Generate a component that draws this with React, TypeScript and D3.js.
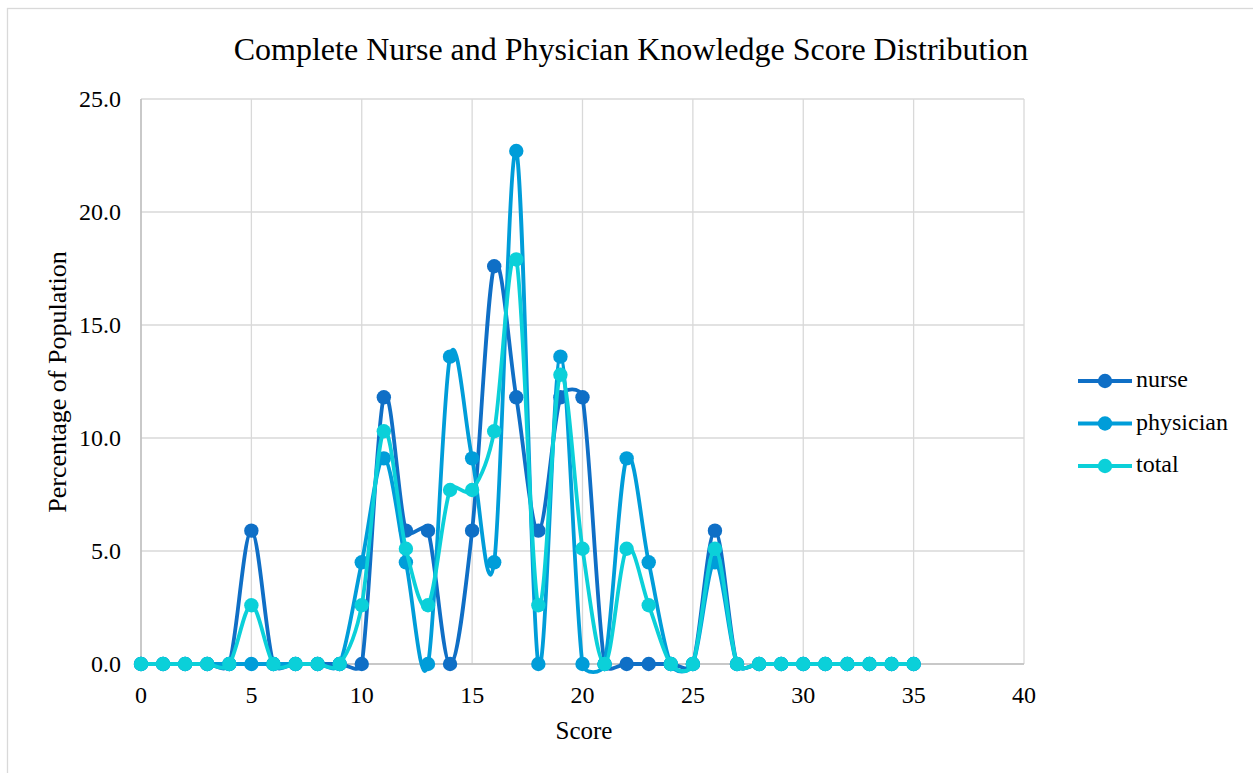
import React, { useRef, useEffect } from "react";
import * as d3 from "d3";

const fontFamily = "'Liberation Serif', 'Times New Roman', serif";

// scores 0..35
const scores = d3.range(0, 36);
const nurse = [0, 0, 0, 0, 0, 5.9, 0, 0, 0, 0, 0, 11.8, 5.9, 5.9, 0, 5.9, 17.6, 11.8, 5.9, 11.8, 11.8, 0, 0, 0, 0, 0, 5.9, 0, 0, 0, 0, 0, 0, 0, 0, 0];
const physician = [0, 0, 0, 0, 0, 0, 0, 0, 0, 0, 4.5, 9.1, 4.5, 0, 13.6, 9.1, 4.5, 22.7, 0, 13.6, 0, 0, 9.1, 4.5, 0, 0, 4.5, 0, 0, 0, 0, 0, 0, 0, 0, 0];
const total = [0, 0, 0, 0, 0, 2.6, 0, 0, 0, 0, 2.6, 10.3, 5.1, 2.6, 7.7, 7.7, 10.3, 17.9, 2.6, 12.8, 5.1, 0, 5.1, 2.6, 0, 0, 5.1, 0, 0, 0, 0, 0, 0, 0, 0, 0];

const seriesNames = ["nurse", "physician", "total"];
const seriesColors = ["#0F6FC6", "#009DD9", "#0BD0D9"];
const xTicks = [0, 5, 10, 15, 20, 25, 30, 35, 40];
const yTicks = [0, 5, 10, 15, 20, 25];

// spreadsheet-style smoothed line: bezier with 1/6 tangents, capped to half the segment
function smoothPath(pts: [number, number][]) {
  const p = d3.path();
  const dist = (a: [number, number], b: [number, number]) => Math.hypot(b[0] - a[0], b[1] - a[1]);
  p.moveTo(pts[0][0], pts[0][1]);
  for (let i = 0; i < pts.length - 1; i++) {
    const p0 = pts[Math.max(0, i - 1)];
    const p1 = pts[i];
    const p2 = pts[i + 1];
    const p3 = pts[Math.min(pts.length - 1, i + 2)];
    const d12 = dist(p1, p2);
    const d02 = dist(p0, p2);
    const d13 = dist(p1, p3);
    const f1 = d02 > 0 ? Math.min(1 / 6, d12 / (2 * d02)) : 0;
    const f2 = d13 > 0 ? Math.min(1 / 6, d12 / (2 * d13)) : 0;
    p.bezierCurveTo(
      p1[0] + f1 * (p2[0] - p0[0]), p1[1] + f1 * (p2[1] - p0[1]),
      p2[0] - f2 * (p3[0] - p1[0]), p2[1] - f2 * (p3[1] - p1[1]),
      p2[0], p2[1]
    );
  }
  return p.toString();
}

export default function App() {
  const ref = useRef<SVGSVGElement>(null);
  const width = 1253;
  const height = 773;

  useEffect(() => {
    const svg = d3.select(ref.current);
    svg.selectAll("*").remove();

    const plot = { left: 141, right: 1024, top: 99, bottom: 664 };
    const x = d3.scaleLinear().domain([0, 40]).range([plot.left, plot.right]);
    const y = d3.scaleLinear().domain([0, 25]).range([plot.bottom, plot.top]);

    svg.append("rect").attr("width", width).attr("height", height).attr("fill", "#fff");
    // chart border
    svg.append("rect")
      .attr("x", 7.5).attr("y", 8.5)
      .attr("width", width + 10).attr("height", height + 10)
      .attr("fill", "none").attr("stroke", "#d9d9d9").attr("stroke-width", 1.3);

    // gridlines
    svg.append("g").selectAll("line.vg")
      .data(xTicks)
      .join("line")
      .attr("x1", d => x(d)).attr("x2", d => x(d))
      .attr("y1", plot.top).attr("y2", plot.bottom)
      .attr("stroke", "#d9d9d9").attr("stroke-width", 1.3);
    svg.append("g").selectAll("line.hg")
      .data(yTicks)
      .join("line")
      .attr("x1", plot.left).attr("x2", plot.right)
      .attr("y1", d => y(d)).attr("y2", d => y(d))
      .attr("stroke", "#d9d9d9").attr("stroke-width", 1.3);
    // axis lines
    svg.append("line")
      .attr("x1", plot.left).attr("x2", plot.right)
      .attr("y1", plot.bottom).attr("y2", plot.bottom)
      .attr("stroke", "#bfbfbf").attr("stroke-width", 1.5);
    svg.append("line")
      .attr("x1", plot.left).attr("x2", plot.left)
      .attr("y1", plot.top).attr("y2", plot.bottom)
      .attr("stroke", "#bfbfbf").attr("stroke-width", 1.5);

    // tick labels
    svg.append("g").selectAll("text")
      .data(xTicks)
      .join("text")
      .attr("x", d => x(d)).attr("y", 703)
      .attr("text-anchor", "middle")
      .attr("font-family", fontFamily).attr("font-size", 24).attr("fill", "#000")
      .text(d => d);
    svg.append("g").selectAll("text")
      .data(yTicks)
      .join("text")
      .attr("x", 121).attr("y", d => y(d) + 8)
      .attr("text-anchor", "end")
      .attr("font-family", fontFamily).attr("font-size", 24).attr("fill", "#000")
      .text(d => d3.format(".1f")(d));

    // titles
    svg.append("text")
      .attr("x", 631).attr("y", 60)
      .attr("text-anchor", "middle")
      .attr("font-family", fontFamily).attr("font-size", 32).attr("fill", "#000")
      .text("Complete Nurse and Physician Knowledge Score Distribution");
    svg.append("text")
      .attr("x", 584).attr("y", 739)
      .attr("text-anchor", "middle")
      .attr("font-family", fontFamily).attr("font-size", 25).attr("fill", "#000")
      .text("Score");
    svg.append("text")
      .attr("transform", "translate(66,382) rotate(-90)")
      .attr("text-anchor", "middle")
      .attr("font-family", fontFamily).attr("font-size", 26).attr("fill", "#000")
      .text("Percentage of Population");

    const allSeries = [nurse, physician, total];

    allSeries.forEach((vals, si) => {
      const g = svg.append("g");
      const pts = vals.map((v, i) => [x(scores[i]), y(v)] as [number, number]);
      g.append("path")
        .attr("d", smoothPath(pts))
        .attr("fill", "none")
        .attr("stroke", seriesColors[si])
        .attr("stroke-width", 3.8)
        .attr("stroke-linejoin", "round");
      g.selectAll("circle")
        .data(vals)
        .join("circle")
        .attr("cx", (d, i) => x(scores[i]))
        .attr("cy", d => y(d))
        .attr("r", 7.2)
        .attr("fill", seriesColors[si]);
    });

    // legend
    const legend = svg.append("g");
    seriesNames.forEach((name, i) => {
      const ly = 381 + i * 42.5;
      legend.append("line")
        .attr("x1", 1078).attr("x2", 1132)
        .attr("y1", ly).attr("y2", ly)
        .attr("stroke", seriesColors[i]).attr("stroke-width", 3.8);
      legend.append("circle")
        .attr("cx", 1105).attr("cy", ly).attr("r", 7.2)
        .attr("fill", seriesColors[i]);
      legend.append("text")
        .attr("x", 1136).attr("y", ly + 6)
        .attr("font-family", fontFamily).attr("font-size", 24).attr("fill", "#000")
        .text(name);
    });
  }, []);

  return (
    <div style={{ position: "absolute", left: 0, top: 0 }}>
      <svg ref={ref} width={width} height={height} style={{ display: "block" }}></svg>
    </div>
  );
}
